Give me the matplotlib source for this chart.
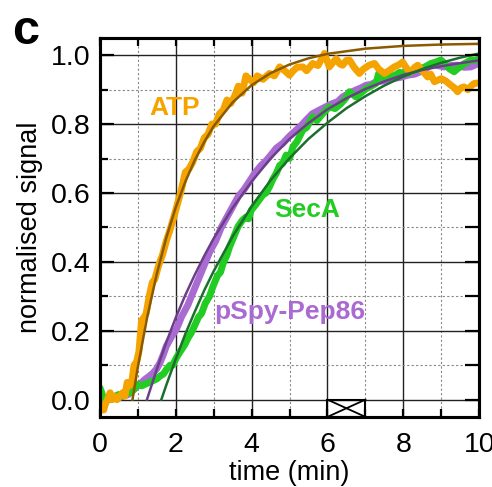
import numpy as np
import matplotlib
matplotlib.use("Agg")
import matplotlib.pyplot as plt
from matplotlib.patches import Rectangle

plt.rcParams['font.family'] = ['Liberation Sans', 'DejaVu Sans']

# ATP data (orange) and fit (brown)
atp_t = [0.0, 0.05, 0.1, 0.15, 0.2, 0.27, 0.32, 0.38, 0.45, 0.52, 0.6, 0.66, 0.72, 0.78, 0.84,
         0.9, 0.97, 1.03, 1.1, 1.17, 1.22, 1.3, 1.38, 1.45, 1.55, 1.65, 1.75, 1.84, 1.95, 2.05,
         2.15, 2.25, 2.35, 2.45, 2.55, 2.65, 2.75, 2.85, 2.95, 3.05, 3.15, 3.25, 3.35, 3.45,
         3.55, 3.65, 3.75, 3.85, 3.95, 4.05, 4.15, 4.3, 4.47, 4.6, 4.74, 4.87, 5.0, 5.1, 5.2,
         5.35, 5.45, 5.61, 5.75, 5.85, 5.92, 6.05, 6.15, 6.23, 6.32, 6.4, 6.5, 6.58, 6.7, 6.84,
         6.95, 7.1, 7.24, 7.35, 7.5, 7.62, 7.76, 7.88, 7.98, 8.1, 8.2, 8.3, 8.38, 8.5, 8.64,
         8.72, 8.82, 9.0, 9.12, 9.25, 9.35, 9.43, 9.52, 9.6, 9.7, 9.8, 9.87, 10.0]
atp_y = [-0.02, -0.03, -0.03, -0.01, 0.0, 0.02, 0.0, 0.01, 0.0, 0.01, 0.02, 0.01, 0.05, 0.04, 0.05,
         0.1, 0.11, 0.14, 0.23, 0.24, 0.25, 0.3, 0.34, 0.35, 0.39, 0.42, 0.46, 0.49, 0.53, 0.57,
         0.61, 0.66, 0.67, 0.69, 0.72, 0.73, 0.76, 0.77, 0.8, 0.8, 0.83, 0.84, 0.87, 0.86,
         0.88, 0.91, 0.89, 0.94, 0.93, 0.92, 0.94, 0.93, 0.947, 0.94, 0.966, 0.955, 0.942, 0.955, 0.965,
         0.966, 0.955, 0.976, 0.97, 0.99, 1.005, 0.966, 0.98, 0.99, 0.975, 0.971, 0.985, 0.986, 0.965, 0.947,
         0.96, 0.971, 0.976, 0.96, 0.947, 0.955, 0.966, 0.972, 0.98, 0.96, 0.952, 0.965, 0.971, 0.955, 0.937,
         0.945, 0.923, 0.932, 0.925, 0.913, 0.905, 0.894, 0.905, 0.908, 0.9, 0.912, 0.918, 0.92]
atp_fit_t = [0.86, 1.0, 1.25, 1.5, 1.75, 2.0, 2.25, 2.5, 2.75, 3.0, 3.5, 4.0, 4.5, 5.0, 5.5, 6.0,
             7.0, 8.0, 9.0, 10.0]
atp_fit_y = [0.0, 0.094, 0.241, 0.365, 0.470, 0.558, 0.632, 0.695, 0.748, 0.794, 0.863, 0.913,
             0.948, 0.973, 0.991, 1.004, 1.019, 1.027, 1.031, 1.033]

# SecA data (green) and fit (dark green)
seca_t = [0.0, 0.05, 0.1, 0.15, 0.2, 0.3, 0.4, 0.5, 0.6, 0.7, 0.8, 0.9, 1.0, 1.1, 1.2, 1.3, 1.4,
          1.5, 1.58, 1.68, 1.75, 1.85, 1.92, 2.02, 2.12, 2.24, 2.33, 2.41, 2.52, 2.6, 2.68, 2.78,
          2.89, 2.98, 3.1, 3.18, 3.25, 3.35, 3.42, 3.52, 3.64, 3.75, 3.85, 3.92, 3.99, 4.1, 4.2,
          4.3, 4.38, 4.47, 4.56, 4.65, 4.74, 4.82, 4.91, 5.0, 5.09, 5.2, 5.35, 5.45, 5.61, 5.72,
          5.88, 6.05, 6.2, 6.36, 6.48, 6.58, 6.75, 6.88, 7.02, 7.15, 7.28, 7.35, 7.45, 7.59, 7.75,
          7.9, 8.11, 8.25, 8.4, 8.55, 8.73, 8.85, 8.99, 9.1, 9.22, 9.34, 9.42, 9.5, 9.6, 9.78,
          9.9, 10.0]
seca_y = [0.035, 0.02, 0.0, -0.01, 0.0, 0.005, 0.01, 0.015, 0.01, 0.02, 0.02, 0.03, 0.045, 0.04,
          0.045, 0.05, 0.055, 0.06, 0.068, 0.075, 0.087, 0.1, 0.1, 0.122, 0.14, 0.16, 0.18, 0.194,
          0.22, 0.24, 0.25, 0.28, 0.3, 0.328, 0.36, 0.37, 0.396, 0.42, 0.444, 0.47, 0.502, 0.52,
          0.53, 0.525, 0.55, 0.565, 0.58, 0.595, 0.6, 0.618, 0.64, 0.657, 0.68, 0.686, 0.71, 0.7,
          0.734, 0.75, 0.783, 0.79, 0.821, 0.81, 0.831, 0.85, 0.845, 0.86, 0.875, 0.894, 0.879,
          0.89, 0.903, 0.91, 0.918, 0.947, 0.935, 0.942, 0.94, 0.95, 0.947, 0.955, 0.96, 0.965,
          0.976, 0.98, 0.986, 0.975, 0.96, 0.952, 0.96, 0.966, 0.975, 0.986, 0.985, 0.99]
seca_fit_t = [1.62, 1.75, 2.0, 2.25, 2.5, 2.75, 3.0, 3.5, 4.0, 4.5, 5.0, 5.5, 6.0, 6.5, 7.0,
              7.5, 8.0, 8.5, 9.0, 9.5, 10.0]
seca_fit_y = [0.0, 0.042, 0.118, 0.19, 0.255, 0.317, 0.373, 0.474, 0.561, 0.637, 0.701, 0.757,
              0.804, 0.846, 0.881, 0.912, 0.938, 0.96, 0.978, 0.993, 1.005]

# pSpy-Pep86 data (purple) and fit (dark purple)
pspy_t = [0.0, 0.1, 0.2, 0.3, 0.4, 0.5, 0.6, 0.75, 0.85, 1.0, 1.1, 1.18, 1.3, 1.4, 1.5, 1.58,
          1.67, 1.75, 1.89, 2.02, 2.15, 2.32, 2.45, 2.6, 2.75, 2.9, 3.05, 3.2, 3.35, 3.5, 3.65,
          3.8, 3.95, 4.1, 4.25, 4.35, 4.47, 4.65, 4.82, 5.0, 5.18, 5.3, 5.44, 5.6, 5.79, 5.95,
          6.14, 6.27, 6.4, 6.58, 6.75, 6.88, 7.02, 7.15, 7.28, 7.45, 7.68, 7.9, 8.11, 8.3, 8.55,
          8.65, 8.77, 8.9, 9.08, 9.25, 9.43, 9.6, 9.78, 9.9, 10.0]
pspy_y = [0.005, 0.0, 0.005, 0.0, 0.005, 0.005, 0.01, 0.015, 0.025, 0.04, 0.05, 0.058, 0.068,
          0.077, 0.09, 0.106, 0.13, 0.155, 0.183, 0.205, 0.24, 0.275, 0.31, 0.35, 0.39, 0.43,
          0.46, 0.5, 0.53, 0.56, 0.59, 0.61, 0.635, 0.66, 0.68, 0.69, 0.705, 0.73, 0.744, 0.765,
          0.783, 0.795, 0.812, 0.83, 0.841, 0.85, 0.86, 0.865, 0.879, 0.89, 0.899, 0.905, 0.913,
          0.915, 0.923, 0.925, 0.932, 0.935, 0.942, 0.945, 0.957, 0.965, 0.976, 0.97, 0.966,
          0.97, 0.971, 0.965, 0.966, 0.972, 0.976]
pspy_fit_t = [1.24, 1.5, 1.75, 2.0, 2.25, 2.5, 2.75, 3.0, 3.5, 4.0, 4.5, 5.0, 5.5, 6.0, 6.5,
              7.0, 7.5, 8.0, 8.5, 9.0, 9.5, 10.0]
pspy_fit_y = [0.0, 0.088, 0.166, 0.238, 0.303, 0.362, 0.417, 0.468, 0.557, 0.633, 0.70, 0.757,
              0.803, 0.843, 0.875, 0.902, 0.924, 0.943, 0.957, 0.968, 0.977, 0.985]

orange, brown = '#F5A300', '#8A5A00'
green, dkgreen = '#22CC22', '#1B6E2E'
purple, dkpurple = '#A96AD2', '#6B3F88'

fig = plt.figure(figsize=(4.92, 4.87), dpi=100)
ax = fig.add_axes([0.203, 0.144, 0.771, 0.778])

# grid
for x in range(1, 10):
    if x % 2 == 0:
        ax.axvline(x, color='#222222', lw=1.0, zorder=0)
    else:
        ax.axvline(x, color='#888888', lw=0.8, ls=(0, (2, 2)), zorder=0)
for y in np.arange(0, 1.01, 0.1):
    if round(y * 10) % 2 == 0:
        ax.axhline(y, color='#222222', lw=1.0, zorder=0)
    else:
        ax.axhline(y, color='#888888', lw=0.8, ls=(0, (2, 2)), zorder=0)

ax.plot(pspy_t, pspy_y, color=purple, lw=5, solid_capstyle='round', zorder=2)
ax.plot(seca_t, seca_y, color=green, lw=5, solid_capstyle='round', zorder=2)
ax.plot(atp_t, atp_y, color=orange, lw=5, solid_capstyle='round', zorder=2)
ax.plot(atp_fit_t, atp_fit_y, color=brown, lw=1.8, zorder=3)
ax.plot(pspy_fit_t, pspy_fit_y, color=dkpurple, lw=1.8, zorder=3)
ax.plot(seca_fit_t, seca_fit_y, color=dkgreen, lw=1.8, zorder=3)

ax.text(1.97, 0.846, 'ATP', color=orange, fontsize=19, fontweight='bold', ha='center', va='center')
ax.text(5.47, 0.55, 'SecA', color=green, fontsize=19, fontweight='bold', ha='center', va='center')
ax.text(5.0, 0.255, 'pSpy-Pep86', color=purple, fontsize=19, fontweight='bold', ha='center', va='center')

# crossed box on the time axis
box_x, box_w = 6, 1
ax.add_patch(Rectangle((box_x, -0.05), box_w, 0.05, fill=False, lw=1.5, color='k', zorder=4))
ax.plot([box_x, box_x + box_w], [-0.05, 0], color='k', lw=1.3, zorder=4)
ax.plot([box_x, box_x + box_w], [0, -0.05], color='k', lw=1.3, zorder=4)

ax.set_xlim(0, 10)
ax.set_ylim(-0.05, 1.05)
ax.set_xticks([0, 2, 4, 6, 8, 10])
ax.set_xticks(range(0, 11), minor=True)
ax.set_yticks([0.0, 0.2, 0.4, 0.6, 0.8, 1.0])
ax.set_yticks(np.arange(0, 1.01, 0.1), minor=True)
ax.tick_params(which='both', direction='in', top=True, right=False, width=1.6, labelsize=20.5)
ax.tick_params(axis='y', which='major', length=10, pad=7)
ax.tick_params(axis='y', which='minor', length=6)
ax.tick_params(axis='x', which='both', length=6, pad=11)
for s in ax.spines.values():
    s.set_linewidth(2.2)

ax2 = ax.twinx()
ax2.set_ylim(-0.05, 1.05)
ax2.set_yticks(np.arange(0, 1.01, 0.1))
ax2.tick_params(direction='in', length=10, width=1.6, labelright=False)
for s in ax2.spines.values():
    s.set_linewidth(2.2)

ax.set_xlabel('time (min)', fontsize=19.5, labelpad=1)
ax.set_ylabel('normalised signal', fontsize=19.5, labelpad=5)

fig.text(0.024, 0.91, 'c', fontsize=35, fontweight='bold')

fig.savefig('out.png', dpi=100)
